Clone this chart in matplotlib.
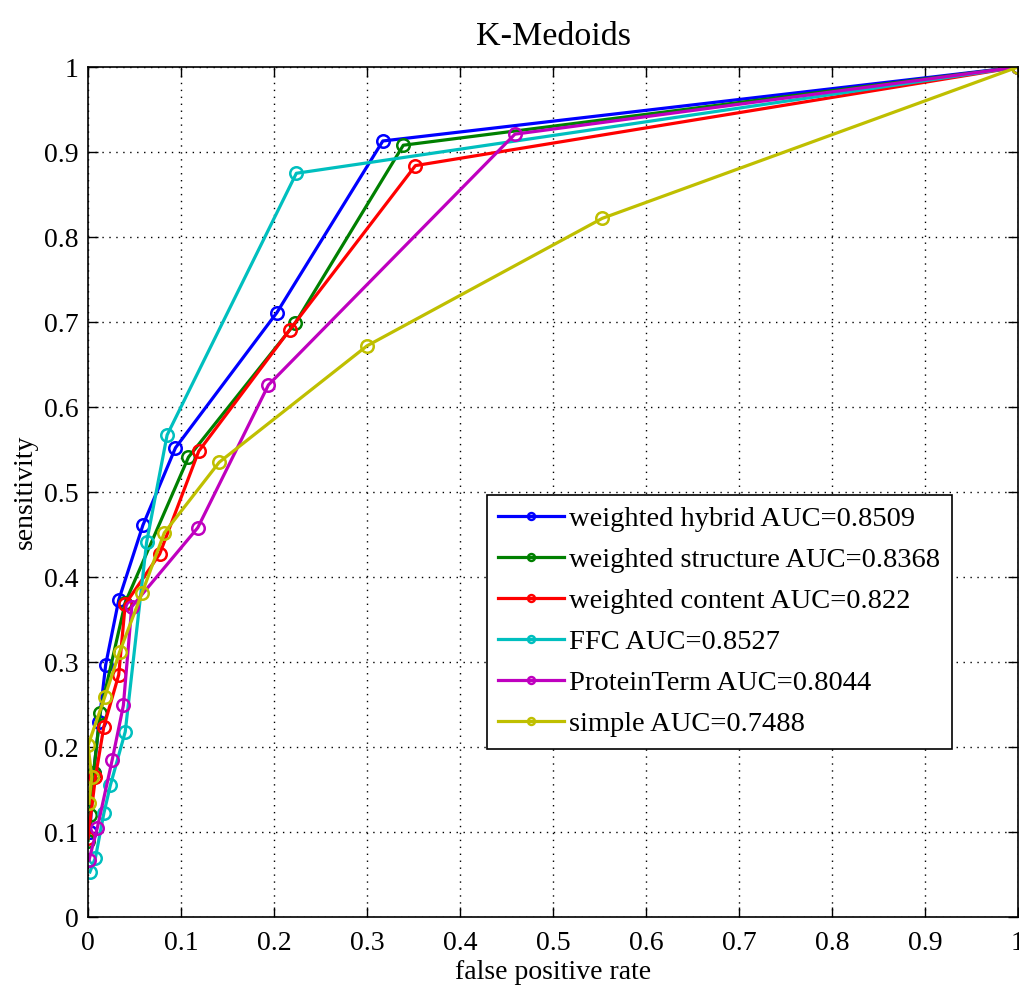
import matplotlib
matplotlib.use("Agg")
import matplotlib.pyplot as plt

plt.rcParams['font.family'] = ['Liberation Serif', 'DejaVu Serif']

# ROC points (false positive rate, sensitivity)
hybrid_fpr = [0.002, 0.006, 0.012, 0.019, 0.033, 0.059, 0.094, 0.203, 0.317, 1.0]
hybrid_tpr = [0.10, 0.17, 0.23, 0.297, 0.373, 0.461, 0.552, 0.711, 0.913, 1.0]

structure_fpr = [0.0, 0.002, 0.006, 0.013, 0.040, 0.108, 0.223, 0.339, 1.0]
structure_tpr = [0.09, 0.12, 0.17, 0.24, 0.370, 0.541, 0.699, 0.908, 1.0]

content_fpr = [0.0, 0.008, 0.017, 0.033, 0.040, 0.077, 0.119, 0.217, 0.352, 1.0]
content_tpr = [0.093, 0.165, 0.224, 0.285, 0.368, 0.427, 0.548, 0.691, 0.884, 1.0]

ffc_fpr = [0.002, 0.008, 0.017, 0.024, 0.040, 0.063, 0.085, 0.224, 1.0]
ffc_tpr = [0.053, 0.070, 0.122, 0.155, 0.218, 0.441, 0.567, 0.875, 1.0]

protein_fpr = [0.001, 0.010, 0.026, 0.038, 0.047, 0.118, 0.194, 0.459, 1.0]
protein_tpr = [0.067, 0.105, 0.185, 0.249, 0.365, 0.458, 0.626, 0.921, 1.0]

simple_fpr = [0.001, 0.004, 0.0, 0.018, 0.034, 0.058, 0.082, 0.141, 0.300, 0.553, 1.0]
simple_tpr = [0.134, 0.165, 0.202, 0.259, 0.312, 0.381, 0.452, 0.535, 0.672, 0.822, 1.0]

labels = ["weighted hybrid AUC=0.8509", "weighted structure AUC=0.8368",
          "weighted content AUC=0.822", "FFC AUC=0.8527",
          "ProteinTerm AUC=0.8044", "simple AUC=0.7488"]
colors = [(0, 0, 1), (0, 0.5, 0), (1, 0, 0), (0, 0.75, 0.75), (0.75, 0, 0.75), (0.75, 0.75, 0)]

series = [(hybrid_fpr, hybrid_tpr), (structure_fpr, structure_tpr), (content_fpr, content_tpr),
          (ffc_fpr, ffc_tpr), (protein_fpr, protein_tpr), (simple_fpr, simple_tpr)]

fig = plt.figure(figsize=(10.19, 9.9), dpi=100)
ax = fig.add_axes([0.0864, 0.0737, 0.9126, 0.8586])

for (x, y), c, lab in zip(series, colors, labels):
    ax.plot(x, y, '-o', color=c, lw=2.3, markersize=9, markerfacecolor='none',
            markeredgewidth=1.8, label=lab)

ax.set_xlim(0, 1)
ax.set_ylim(0, 1)
ticks = [i / 10 for i in range(11)]
ax.set_xticks(ticks)
ax.set_yticks(ticks)
ticklabels = ['0'] + ['%.1f' % t for t in ticks[1:-1]] + ['1']
ax.set_xticklabels(ticklabels)
ax.set_yticklabels(ticklabels)
ax.tick_params(direction='in', top=True, right=True, length=7, width=1, labelsize=20)
ax.tick_params(axis='x', pad=10)
ax.tick_params(axis='y', pad=7)
ax.grid(True, color='black', linestyle=(0, (1, 4)), linewidth=1)
for s in ax.spines.values():
    s.set_linewidth(1.2)

ax.set_xlabel("false positive rate", fontsize=20, labelpad=3)
ax.set_ylabel("sensitivity", fontsize=20, labelpad=4)
ax.set_title("K-Medoids", fontsize=24.5, pad=16)

leg = ax.legend(loc='lower right', bbox_to_anchor=(0.929, 0.198), fontsize=20.5, markerscale=0.55,
                fancybox=False, edgecolor='black', framealpha=1, handlelength=2.3,
                borderpad=0.4, labelspacing=0.53, handletextpad=0.2, borderaxespad=0)
leg.get_frame().set_linewidth(1.2)

fig.savefig("out.png", dpi=100)
